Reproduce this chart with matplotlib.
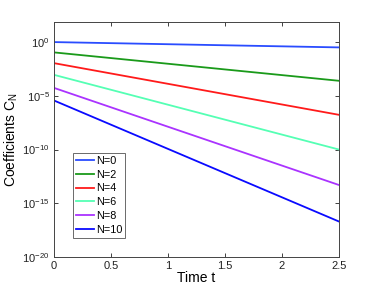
import matplotlib
matplotlib.use("Agg")
import matplotlib.pyplot as plt
import numpy as np

plt.rcParams['font.family'] = ['Liberation Sans', 'DejaVu Sans']

t = [0.0, 2.5]
labels = ["N=0", "N=2", "N=4", "N=6", "N=8", "N=10"]
c_n0 = [1.0, 0.32]
c_n2 = [0.11, 2.5e-4]
c_n4 = [0.011, 1.7e-7]
c_n6 = [9e-4, 1.0e-10]
c_n8 = [5.5e-5, 5e-14]
c_n10 = [3.7e-6, 2e-17]
series = [c_n0, c_n2, c_n4, c_n6, c_n8, c_n10]
colors = ["#2a4cff", "#1a9a1a", "#ff1a1a", "#55ffb4", "#aa33ff", "#0a0aff"]

fig = plt.figure(figsize=(3.74, 2.89), dpi=100)
ax = fig.add_axes([0.144, 0.111, 0.762, 0.814])
for y, c, lab in zip(series, colors, labels):
    ax.semilogy(t, y, color=c, lw=1.3, label=lab)

ax.set_xlim(0, 2.5)
ax.set_ylim(1e-20, 10**1.9)
ax.set_xticks([0, 0.5, 1, 1.5, 2, 2.5])
ax.set_xticklabels(["0", "0.5", "1", "1.5", "2", "2.5"])
ax.set_yticks([1e0, 1e-5, 1e-10, 1e-15, 1e-20])
ax.yaxis.set_minor_locator(matplotlib.ticker.NullLocator())
ax.tick_params(direction='in', top=True, right=True, labelsize=8, length=3, width=0.6, pad=3, colors='#222222')
for s in ax.spines.values():
    s.set_linewidth(0.7)
    s.set_color('#444444')
ax.set_xlabel("Time t", fontsize=10, labelpad=0)
ax.set_ylabel("Coefficients C$_\\mathregular{N}$", fontsize=10, labelpad=2)
leg = ax.legend(loc='lower left', bbox_to_anchor=(0.067, 0.08), fontsize=7.8,
                frameon=True, fancybox=False, handlelength=1.6, handletextpad=0.2,
                borderpad=0.3, labelspacing=0.35, borderaxespad=0)
leg.get_frame().set_edgecolor('#444444')
leg.get_frame().set_linewidth(0.7)
fig.savefig("out.png", dpi=100)
